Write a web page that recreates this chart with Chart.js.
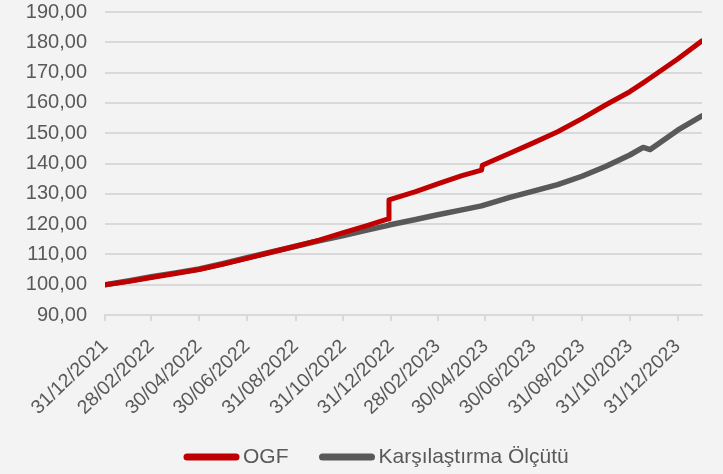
<!DOCTYPE html>
<html lang="tr">
<head>
<meta charset="UTF-8">
<title>OGF - Karşılaştırma Ölçütü</title>
<script src="https://cdn.jsdelivr.net/npm/chart.js@4.4.1/dist/chart.umd.min.js"></script>
<style>
  html, body { margin: 0; padding: 0; background: #f3f3f3; }
  #wrap { width: 723px; height: 474px; }
</style>
</head>
<body>
<div id="wrap"><canvas id="chart" width="723" height="474"></canvas></div>
<script>
  // observation dates (dd/mm/yyyy)
  var dates = [
    '31/12/2021', '31/01/2022', '28/02/2022', '31/03/2022', '30/04/2022', '31/05/2022',
    '30/06/2022', '31/07/2022', '31/08/2022', '30/09/2022', '31/10/2022', '30/11/2022',
    '27/12/2022', '28/12/2022', '31/01/2023', '28/02/2023', '31/03/2023', '25/04/2023',
    '26/04/2023', '31/05/2023', '30/06/2023', '31/07/2023', '31/08/2023', '30/09/2023',
    '31/10/2023', '17/11/2023', '26/11/2023', '31/12/2023', '31/01/2024'
  ];
  var ogf = [
    100.0, 101.1, 102.4, 103.7, 105.0, 106.8,
    108.7, 110.7, 112.7, 114.7, 117.2, 119.5,
    121.7, 128.0, 130.7, 133.3, 136.0, 137.8,
    139.4, 143.4, 146.8, 150.5, 154.8, 159.3,
    163.7, 166.6, 168.2, 174.5, 180.5
  ];
  var benchmark = [
    100.0, 101.3, 102.6, 103.9, 105.2, 107.0,
    108.9, 110.8, 112.7, 114.5, 116.2, 118.0,
    119.6, 119.7, 121.5, 123.1, 124.7, 126.0,
    126.1, 128.8, 130.9, 133.0, 135.8, 139.0,
    142.8, 145.3, 144.6, 151.0, 155.7
  ];
  var tickLabels = [
    '31/12/2021', '28/02/2022', '30/04/2022', '30/06/2022', '31/08/2022', '31/10/2022',
    '31/12/2022', '28/02/2023', '30/04/2023', '30/06/2023', '31/08/2023', '31/10/2023',
    '31/12/2023'
  ];
  var seriesNames = ['OGF', 'Karşılaştırma Ölçütü'];

  // days since the first date
  function toDay(s) {
    var p = s.split('/');
    return (Date.UTC(+p[2], +p[1] - 1, +p[0]) - Date.UTC(2021, 11, 31)) / 86400000;
  }

  var days = dates.map(toDay);
  var tickDays = tickLabels.map(toDay);

  function pts(vals) {
    return vals.map(function(v, i) { return { x: days[i], y: v }; });
  }

  var textColor = '#595959';
  var fontFamily = '"Liberation Sans", Arial, sans-serif';

  // legend drawn below the axis labels
  var bottomLegend = {
    id: 'bottomLegend',
    afterDraw: function(chart) {
      var ctx = chart.ctx;
      ctx.save();
      ctx.font = '21px ' + fontFamily;
      ctx.textBaseline = 'middle';
      var x = 184, y = 457;
      chart.data.datasets.forEach(function(ds) {
        ctx.strokeStyle = ds.borderColor;
        ctx.lineWidth = 7;
        ctx.lineCap = 'round';
        ctx.beginPath();
        ctx.moveTo(x + 3, y);
        ctx.lineTo(x + 52, y);
        ctx.stroke();
        ctx.fillStyle = textColor;
        ctx.fillText(ds.label, x + 59, y);
        x += 59 + ctx.measureText(ds.label).width + 31;
      });
      ctx.restore();
    }
  };

  var ctx = document.getElementById('chart').getContext('2d');
  var chart = new Chart(ctx, {
    type: 'line',
    data: {
      datasets: [{
        label: seriesNames[0],
        data: pts(ogf),
        borderColor: '#c00000',
        borderWidth: 5
      }, {
        label: seriesNames[1],
        data: pts(benchmark),
        borderColor: '#595959',
        borderWidth: 5.5
      }]
    },
    options: {
      responsive: false,
      animation: false,
      layout: { padding: { top: 12, right: 21, left: 0, bottom: 0 } },
      elements: {
        point: { radius: 0 },
        line: { tension: 0, borderJoinStyle: 'round', borderCapStyle: 'round' }
      },
      plugins: {
        legend: { display: false },
        tooltip: { enabled: false }
      },
      scales: {
        x: {
          type: 'linear',
          min: 0,
          max: days[days.length - 1],
          afterBuildTicks: function(scale) {
            scale.ticks = tickDays.map(function(d) { return { value: d }; });
          },
          afterFit: function(scale) {
            scale.height = 159;
            scale.paddingLeft = 0;
            scale.paddingRight = 0;
          },
          grid: { drawOnChartArea: false, drawTicks: true, tickLength: 6, color: '#d9d9d9', lineWidth: 2 },
          border: { display: true, color: '#d9d9d9', width: 2 },
          ticks: {
            autoSkip: false,
            minRotation: 44,
            maxRotation: 44,
            padding: 14,
            color: textColor,
            font: { family: fontFamily, size: 19.5 },
            callback: function(v, i) { return tickLabels[i]; }
          }
        },
        y: {
          min: 90,
          max: 190,
          afterFit: function(scale) {
            scale.width = 105;
            scale.paddingTop = 0;
            scale.paddingBottom = 0;
          },
          grid: { color: '#d9d9d9', lineWidth: 2, drawTicks: false },
          border: { display: false },
          ticks: {
            stepSize: 10,
            padding: 18,
            color: textColor,
            font: { family: fontFamily, size: 20 },
            callback: function(v) { return v.toFixed(2).replace('.', ','); }
          }
        }
      }
    },
    plugins: [bottomLegend]
  });
</script>
</body>
</html>
